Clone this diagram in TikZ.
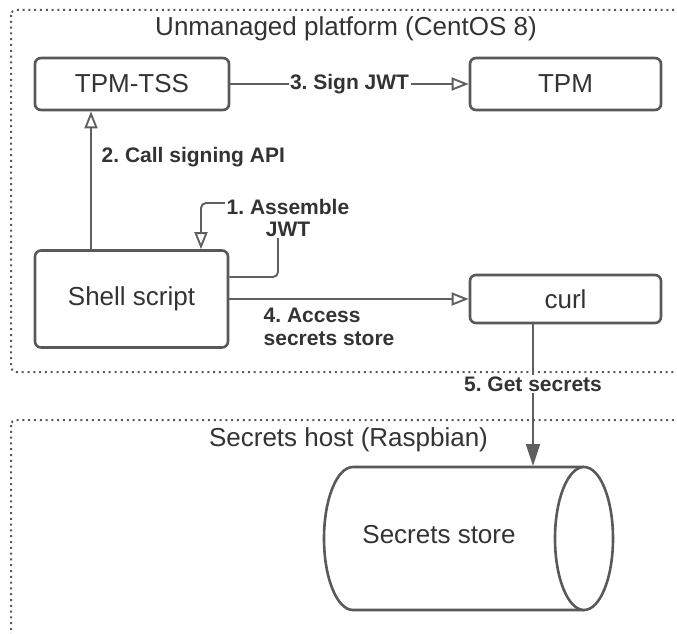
\documentclass[tikz,border=0pt]{standalone}
\usepackage{fontspec}
\setmainfont{Liberation Sans}
\frenchspacing
\usetikzlibrary{arrows.meta}
\definecolor{bordc}{HTML}{595959}
\definecolor{linec}{HTML}{5F5F5F}
\definecolor{txtc}{HTML}{333333}
\tikzset{
  box/.style={draw=bordc, line width=2.6pt, rounded corners=6pt, fill=white,
    text=txtc, font=\fontsize{26}{30}\selectfont, inner sep=0pt},
  group/.style={draw=bordc, line width=2pt, dash pattern=on 2pt off 3.8pt, rounded corners=5pt},
  gtitle/.style={text=txtc, font=\fontsize{26}{30}\selectfont, inner sep=0pt},
  conn/.style={draw=linec, line width=1.9pt},
  openarrow/.style={-{Triangle[open, length=17pt, width=13pt, line width=1.9pt]}},
  fillarrow/.style={-{Triangle[length=22pt, width=14pt]}},
  lbl/.style={text=txtc, font=\bfseries\fontsize{21}{25}\selectfont, fill=white, inner sep=1.5pt},
}
\begin{document}
\begin{tikzpicture}[x=1pt, y=1pt]
\useasboundingbox (0,0) rectangle (677,633);
\clip (0,0) rectangle (677,633);
% groups
\draw[group] (11,623) rectangle (700,261);
\draw[group] (11,213) rectangle (700,-30);
\node[gtitle] (t1) at (346,604) {Unmanaged platform (CentOS 8)};
\node[gtitle] (t2) at (348.5,193) {Secrets host (Raspbian)};
% boxes
\node[box, minimum width=194pt, minimum height=52pt] (tss) at (132,549) {TPM-TSS};
\node[box, minimum width=191pt, minimum height=52pt] (tpm) at (565.5,549) {TPM};
\node[box, minimum width=193pt, minimum height=97pt] (shell) at (131.5,334) {Shell script};
\node[box, minimum width=191pt, minimum height=48pt] (curl) at (565.5,334) {curl};
% cylinder
\draw[draw=bordc, line width=2.6pt, fill=white]
  (584,166) -- (353,166) arc[start angle=90, end angle=270, x radius=29, y radius=71.5]
  -- (584,23);
\draw[draw=bordc, line width=2.6pt, fill=white]
  (584,94.5) ellipse[x radius=29, y radius=71.5];
\node[gtitle] (store) at (439,98) {Secrets store};
\coordinate (storetop) at (533,167);
% connectors
\draw[conn, openarrow] (tss.east) -- node[lbl] (l3) {3. Sign JWT} (tpm.west);
\draw[conn, openarrow] (shell.north -| 91,0) -- (tss.south -| 91,0);
\node[lbl, fill=none, anchor=west] (l2) at (100,476) {2. Call signing API};
\draw[conn, openarrow, rounded corners=5pt] (shell.east |- 0,356) -- (278,356) -- (278,430) -- (201,430) -- (shell.north -| 201,0);
\node[lbl, align=center] (l1) at (288,415) {1. Assemble\\[-3pt]JWT};
\draw[conn, openarrow] (shell.east) -- (curl.west);
\node[lbl, fill=none, align=left, anchor=west] (l4) at (262,306) {4. Access\\[-2pt]secrets store};
\draw[conn, fillarrow] (curl.south -| storetop) -- node[lbl, pos=0.42] (l5) {5. Get secrets} (storetop);
\end{tikzpicture}
\end{document}
